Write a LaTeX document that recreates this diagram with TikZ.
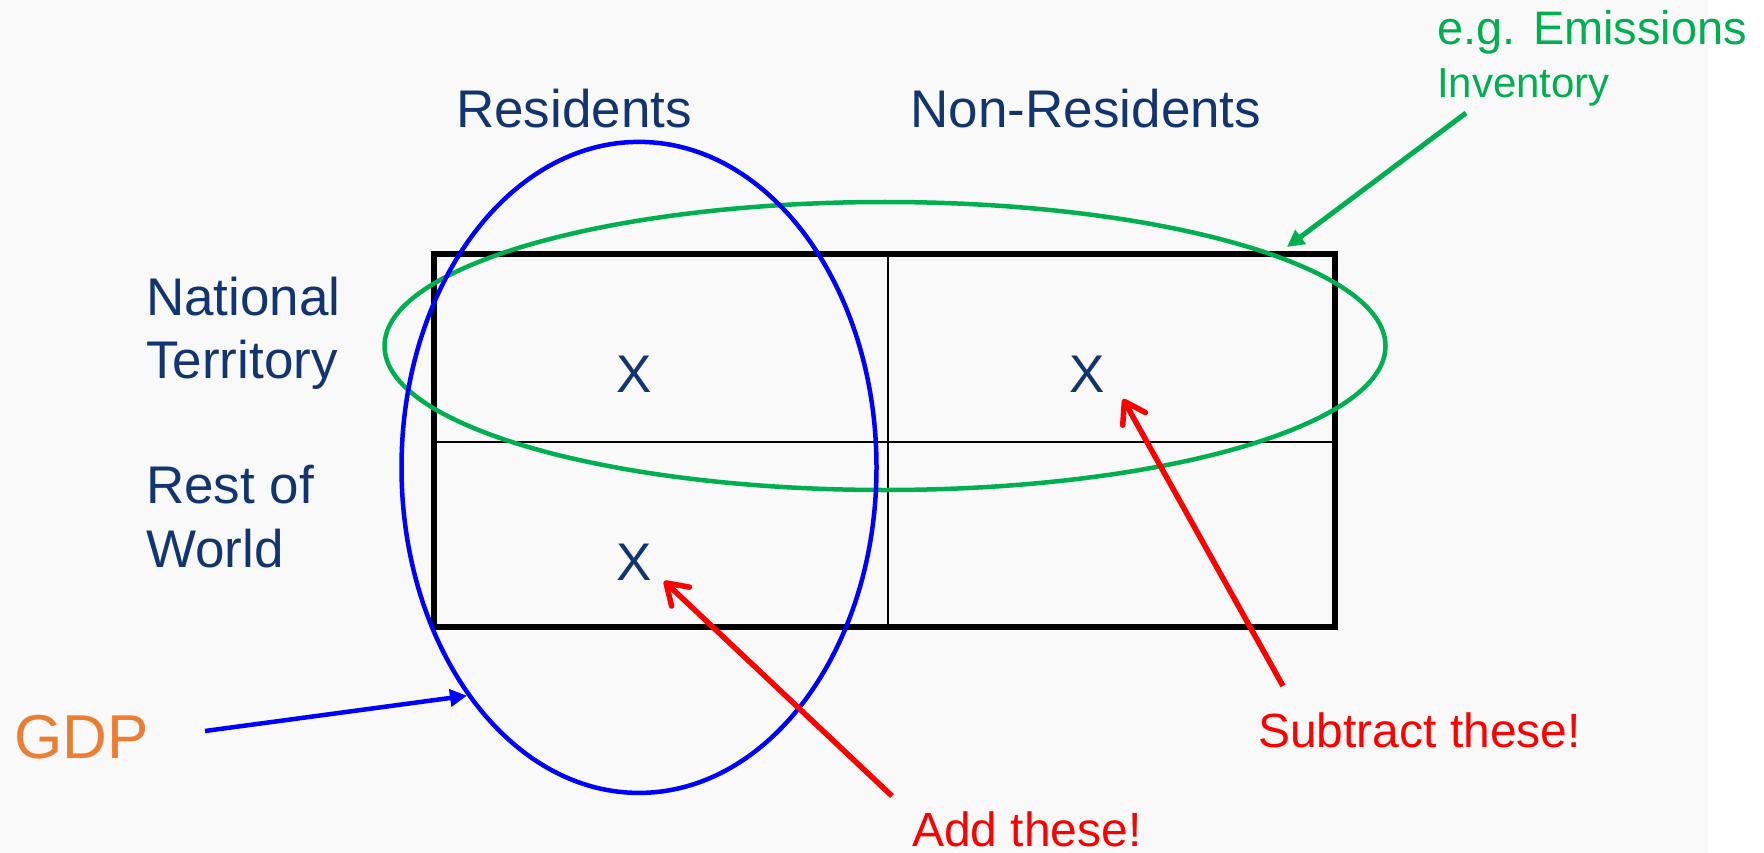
\documentclass[tikz,border=0pt]{standalone}
\usepackage{fontspec}
\setmainfont{Liberation Sans}
\usetikzlibrary{arrows.meta,shapes.geometric}

\definecolor{navytext}{RGB}{18,52,112}
\definecolor{gdporange}{RGB}{237,125,49}
\definecolor{invgreen}{RGB}{0,176,80}
\definecolor{pagegray}{RGB}{249,249,249}

\begin{document}
\begin{tikzpicture}[x=1pt, y=-1pt,
    heading/.style={inner sep=0pt, text=navytext, font=\fontsize{53}{63}\selectfont},
    note/.style={inner sep=0pt, font=\fontsize{48}{56}\selectfont},
    frame/.style={draw=black, line width=5.5pt},
    divider/.style={draw=black, line width=2pt},
    ring/.style={ellipse, draw, line width=4.5pt, inner sep=0pt},
    pointer/.style={-{Triangle[length=17pt,width=17pt]}, line width=4.5pt},
    redpointer/.style={-{Straight Barb[length=20pt,width=26pt,round]}, line width=5.5pt, red}
]

% Page and background
\useasboundingbox (0,0) rectangle (1764,853);
\fill[white] (0,0) rectangle (1764,853);
\fill[pagegray] (0,0) rectangle (1708,853);

% Column and row headings
\node[heading, anchor=base] (resid) at (574,128) {Residents};
\node[heading, anchor=base] (nonresid) at (1086,128) {Non-Residents};
\node[heading, anchor=base west] (natl) at (146,315) {National};
\node[heading, anchor=base west] (terr) at (146,378) {Territory};
\node[heading, anchor=base west] (rest) at (146,503) {Rest of};
\node[heading, anchor=base west] (world) at (146,567) {World};

% Table
\draw[frame] (434,254) rectangle (1335,627);
\draw[divider] (434,442) -- (1335,442);
\draw[divider] (888,254) -- (888,627);

% Marks in the cells
\node[heading, anchor=base] (xa) at (634.5,392) {X};
\node[heading, anchor=base] (xb) at (1087,392) {X};
\node[heading, anchor=base] (xc) at (634.5,580) {X};

% Inventory and GDP boundaries
\node[ring, draw=invgreen, minimum width=1001pt, minimum height=288pt] (invring) at (885,346) {};
\node[ring, draw=blue, minimum width=475pt, minimum height=651pt] (resring) at (639,467.4) {};

% Annotations
\node[anchor=base west, inner sep=0pt, text=gdporange, font=\fontsize{62}{70}\selectfont] (gdp) at (14,758) {GDP};
\node[anchor=base west, inner sep=0pt, text=invgreen, font=\fontsize{47}{56}\selectfont] (inv1) at (1437,45) {e.g. Emissions};
\node[anchor=base west, inner sep=0pt, text=invgreen, font=\fontsize{42}{50}\selectfont] (inv2) at (1437,98) {Inventory};
\node[note, anchor=base west, text=red] (subtr) at (1258,747) {Subtract these!};
\node[note, anchor=base west, text=red] (addit) at (912,846) {Add these!};

% Arrows
\coordinate (gdptail) at (205,731);
\coordinate (invtail) at (1466,113);
\coordinate (invtip) at (1287,247);
\coordinate (addtail) at (892,796);
\coordinate (addtip) at (664,581);
\coordinate (subtail) at (1283,686);
\coordinate (subtip) at (1123,399);

\draw[pointer, blue] (gdptail) -- (resring.233.6);
\draw[pointer, invgreen, line width=5pt] (invtail) -- (invtip);
\draw[redpointer] (addtail) -- (addtip);
\draw[redpointer] (subtail) -- (subtip);

\end{tikzpicture}
\end{document}
